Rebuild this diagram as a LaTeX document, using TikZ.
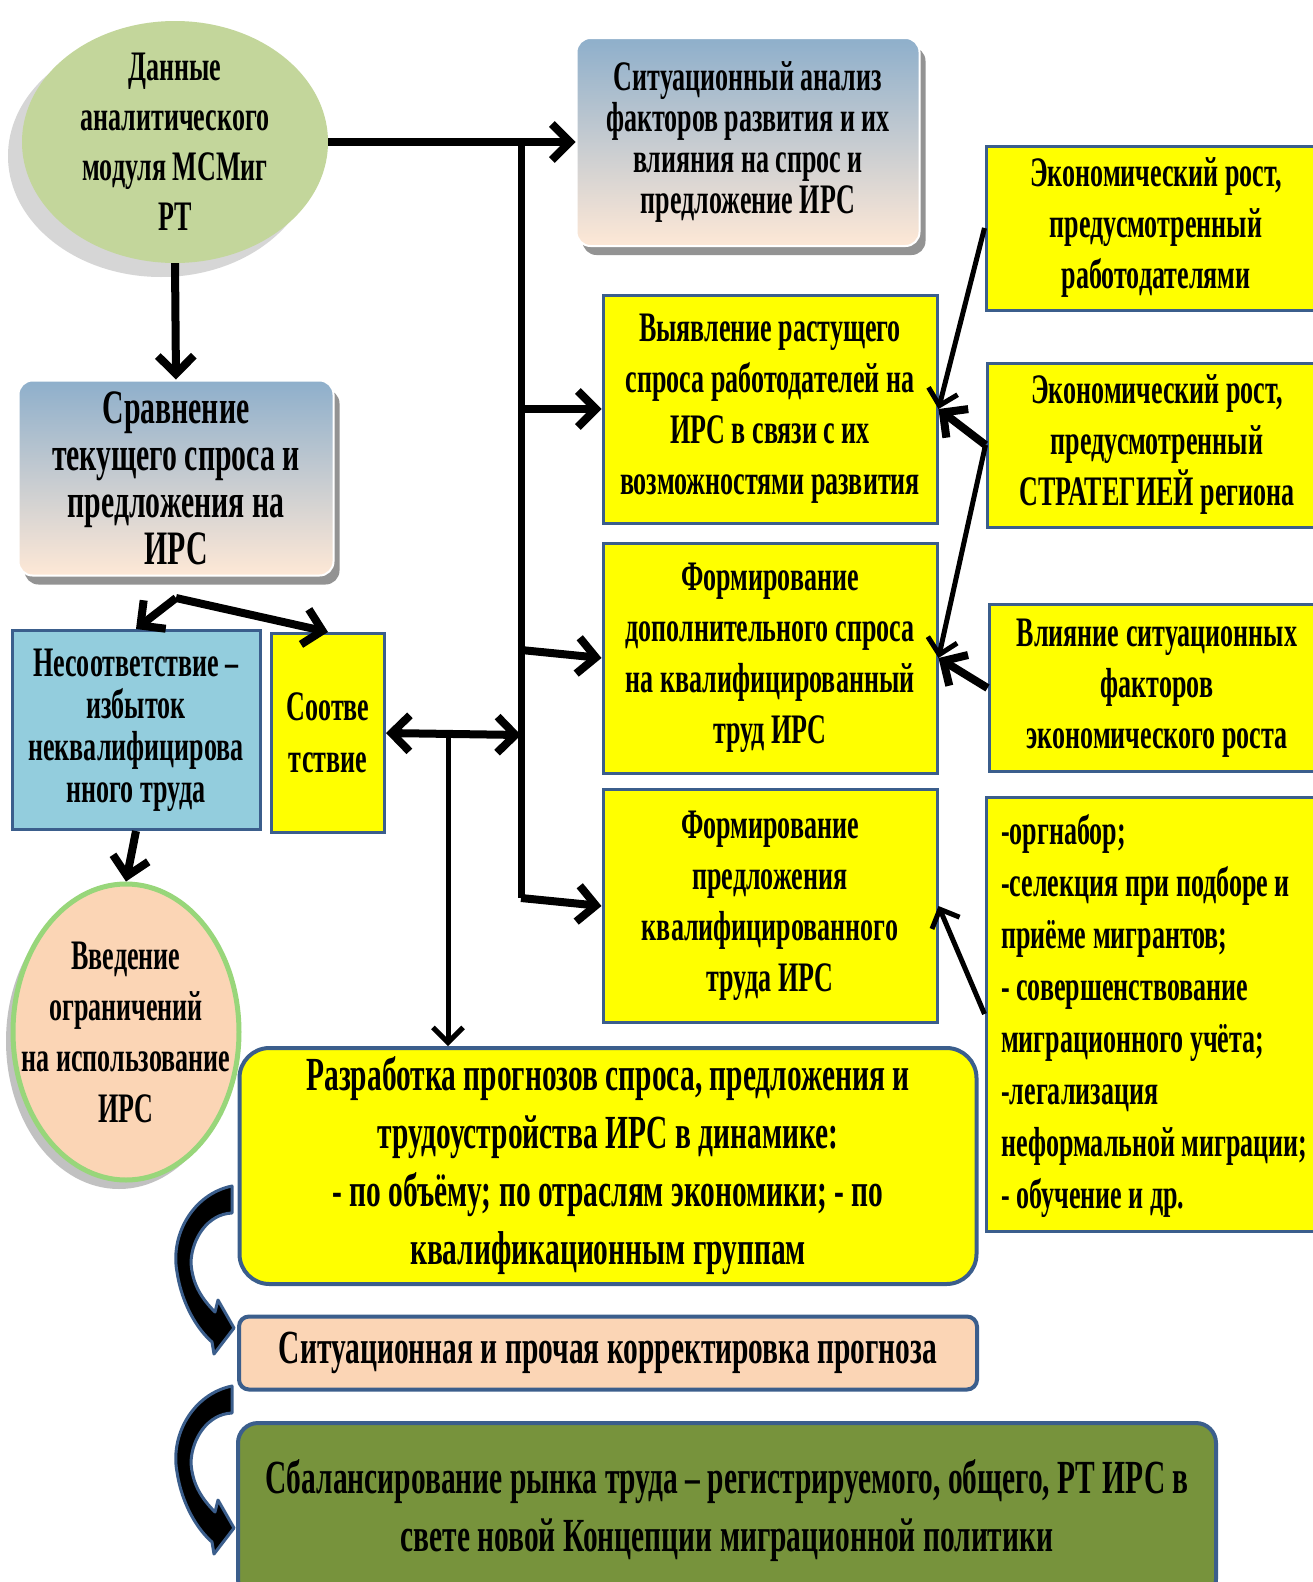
\documentclass[tikz,border=0pt]{standalone}
\usepackage{fontspec}
\setmainfont{Liberation Serif}[FakeStretch=0.62]
\usetikzlibrary{arrows.meta,shadows,shapes.geometric,positioning}

\definecolor{boxline}{HTML}{3B5E8C}
\definecolor{boxyellow}{HTML}{FFFF00}
\definecolor{boxblue}{HTML}{93CDDD}
\definecolor{peach}{HTML}{FBD5B5}
\definecolor{sage}{HTML}{C3D69B}
\definecolor{olive}{HTML}{77933C}
\definecolor{steeltop}{HTML}{8EAFCB}
\definecolor{peachmid}{HTML}{F9D2B2}
\definecolor{peachlow}{HTML}{FEE8D6}
\definecolor{lightgreen}{HTML}{98D67A}

\tikzset{
  fs/.style 2 args={font=\fontsize{#1}{#2}\selectfont\bfseries},
  txt/.style={inner sep=0pt, align=center},
  ybox/.style={draw=boxline, line width=3pt, fill=boxyellow, align=center, inner sep=0pt, fs={42}{51}},
  gbox/.style={draw=white, line width=2pt, rounded corners=14pt, top color=steeltop, middle color=peachmid, bottom color=peachlow, align=center, inner sep=0pt,
    drop shadow={shadow xshift=6pt, shadow yshift=-9pt, fill=gray!85, opacity=1}},
  roundbox/.style={draw=boxline, line width=4pt, align=center, inner sep=0pt},
  link/.style={line width=8pt, -{Straight Barb[length=18pt,width=36pt]}},
  thinlink/.style={line width=5pt, -{Straight Barb[length=15pt,width=30pt]}},
  trunk/.style={line width=7pt},
  bendarrow/.style={fill=black, draw=boxline, line width=3pt, line join=round},
}

\begin{document}
\begin{tikzpicture}[x=1pt, y=-1pt]
\useasboundingbox (0,0) rectangle (1313,1582);
\fill [white] (0,0) rectangle (1313,1582);

% left column
\node (data) at (175,142) [ellipse, fill=sage, minimum width=306pt, minimum height=242pt, inner sep=0pt,
  drop shadow={shadow xshift=-14pt, shadow yshift=-14pt, fill=gray!70, opacity=0.45}] {};
\node (datatext) at (data.center) [txt, fs={42}{50}] {Данные\\аналитического\\модуля МСМиг\\РТ};
\node (sravn) at (176,478) [gbox, minimum width=315pt, minimum height=195pt, fs={48}{47}]
  {Сравнение\\текущего спроса и\\предложения на\\ИРС};
\node (nesoot) at (136,730) [ybox, fill=boxblue, minimum width=248pt, minimum height=199pt, fs={42}{42}]
  {Несоответствие –\\избыток\\неквалифицирова\\нного труда};
\node (sootv) at (328,733) [ybox, minimum width=113pt, minimum height=199pt, fs={42}{52}]
  {Соотве\\тствие};
\node (vved) at (126,1032) [ellipse, fill=peach, draw=lightgreen, line width=5pt, minimum width=226pt, minimum height=296pt, inner sep=0pt,
  drop shadow={shadow xshift=-7pt, shadow yshift=-9pt, fill=gray!80, opacity=0.6}] {};
\node (vvedtext) at (vved.center) [txt, fs={42}{51}] {Введение\\ограничений\\на использование\\ИРС};

% middle column
\node (situ) at (748,142) [gbox, minimum width=343pt, minimum height=208pt, fs={42}{41}]
  {Ситуационный анализ\\факторов развития и их\\влияния на спрос и\\предложение ИРС};
\node (vyyav) at (770,409) [ybox, minimum width=334pt, minimum height=228pt]
  {Выявление растущего\\спроса работодателей на\\ИРС в связи с их\\возможностями развития};
\node (formdop) at (770,658) [ybox, minimum width=334pt, minimum height=230pt]
  {Формирование\\дополнительного спроса\\на квалифицированный\\труд ИРС};
\node (formpred) at (770,906) [ybox, minimum width=334pt, minimum height=233pt]
  {Формирование\\предложения\\квалифицированного\\труда ИРС};

% right column
\node (ekon1) at (1156,228) [ybox, minimum width=340pt, minimum height=164pt]
  {Экономический рост,\\предусмотренный\\работодателями};
\node (ekon2) at (1157,445) [ybox, minimum width=340pt, minimum height=164pt]
  {Экономический рост,\\предусмотренный\\СТРАТЕГИЕЙ региона};
\node (vliyan) at (1157,688) [ybox, minimum width=336pt, minimum height=167pt]
  {Влияние ситуационных\\факторов\\экономического роста};
\node (meas) at (1156,1014) [ybox, minimum width=340pt, minimum height=434pt] {};
\node (meastext) at (1001,1016) [anchor=west, inner sep=0pt, align=left, fs={42}{52}]
  {-оргнабор;\\-селекция при подборе и\\приёме мигрантов;\\- совершенствование\\миграционного учёта;\\-легализация\\неформальной миграции;\\- обучение и др.};

% bottom row
\node (razr) at (608,1166) [roundbox, fill=boxyellow, rounded corners=30pt, minimum width=737pt, minimum height=236pt, fs={47.5}{58}]
  {Разработка прогнозов спроса, предложения и\\трудоустройства ИРС в динамике:\\- по объёму; по отраслям экономики; - по\\квалификационным группам};
\node (korr) at (608,1353) [roundbox, fill=peach, rounded corners=10pt, minimum width=738pt, minimum height=73pt, fs={47.5}{58}]
  {Ситуационная и прочая корректировка прогноза};
\node (balans) at (727,1511) [roundbox, fill=olive, rounded corners=20pt, minimum width=978pt, minimum height=176pt, fs={47.5}{58}]
  {Сбалансирование рынка труда – регистрируемого, общего, РТ ИРС в\\свете новой Концепции миграционной политики};

% junctions
\coordinate (trunktop) at (521,141);
\coordinate (trunkbot) at (521,898);
\coordinate (br1) at (521,409);
\coordinate (br2) at (521,650);
\coordinate (br0) at (521,735);
\coordinate (drop) at (448,735);
\coordinate (fork) at (176,598);

% connectors
\draw [link] (data.east) -- (situ.west);
\draw [trunk] (trunktop) -- (trunkbot);
\draw [link] (br1) -- (vyyav.west);
\draw [link] (br2) -- (formdop.west);
\draw [link] (trunkbot) -- (formpred.west);
\draw [line width=8pt, {Straight Barb[length=18pt,width=36pt]}-{Straight Barb[length=18pt,width=36pt]}] (sootv.east) -- (br0);
\draw [thinlink] (drop) -- (drop |- razr.north);
\draw [link] (data.south) -- (sravn.north);
\draw [link] (fork) -- (nesoot.north);
\draw [link] (fork) -- (sootv.north);
\draw [link] (nesoot.south) -- (vved.north);

\draw [thinlink] (ekon1.west) -- (vyyav.east);
\draw [link] (ekon2.west) -- (vyyav.east);
\draw [thinlink] (ekon2.west) -- (formdop.east);
\draw [link] (vliyan.west) -- (formdop.east);
\draw [thinlink] (meas.west) -- (formpred.east);

% curved arrows on the left
\foreach \dy in {0,200} {
  \begin{scope}[shift={(0,\dy)}]
    \draw [bendarrow] (232,1186) .. controls (193,1194) and (170,1235) .. (177,1272)
      .. controls (182,1305) and (198,1330) .. (212,1342) -- (214,1354) -- (234,1328) -- (218,1300) -- (215,1312)
      .. controls (203,1300) and (192,1285) .. (191,1262) .. controls (192,1238) and (208,1214) .. (232,1213) -- cycle;
  \end{scope}
}
\end{tikzpicture}
\end{document}
